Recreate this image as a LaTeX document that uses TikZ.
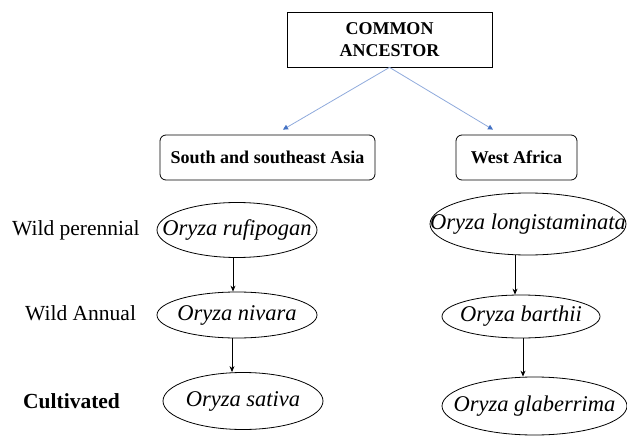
\documentclass[tikz,border=0pt]{standalone}
\usepackage{fontspec}
\setmainfont{Liberation Serif}
\usetikzlibrary{arrows.meta, positioning, shapes.geometric}
\definecolor{LinkBlue}{HTML}{8FAADC}
\definecolor{TipBlue}{HTML}{4472C4}

\begin{document}
\begin{tikzpicture}[
    x=1pt, y=-1pt,
    topbox/.style={rectangle, draw=black, line width=0.8pt, inner sep=0pt,
                  minimum height=55pt, minimum width=205pt, align=center,
                  font=\fontsize{18}{22}\selectfont\bfseries},
    regbox/.style={rectangle, rounded corners=6pt, draw=black, line width=0.8pt,
                  inner sep=0pt, minimum height=45pt,
                  font=\fontsize{18}{22}\selectfont\bfseries},
    sp/.style={ellipse, draw=black, line width=0.8pt, inner sep=0pt},
    spname/.style={inner sep=0pt, font=\fontsize{22.5}{26}\selectfont\itshape},
    stage/.style={anchor=west, inner sep=0pt, font=\fontsize{21.5}{25}\selectfont},
    arr/.style={-{Stealth[length=6pt, width=5pt]}, line width=0.8pt, color=black},
    blarr/.style={-{Triangle[length=5pt, width=5pt, color=TipBlue]}, line width=0.8pt, color=LinkBlue}
  ]
    \useasboundingbox (0,0) rectangle (627,436);

    \node[topbox] (anc) at (389.5,39.5) {COMMON\\ANCESTOR};
    \node[regbox, minimum width=215pt] (sas) at (267.5,157.5) {South and southeast Asia};
    \node[regbox, minimum width=121pt] (waf) at (516.5,157.5) {West Africa};

    \node[sp, minimum width=160pt, minimum height=55pt,
          label={[spname]center:Oryza rufipogan}] (ruf) at (237,230) {};
    \node[sp, minimum width=160pt, minimum height=46pt,
          label={[spname]center:Oryza nivara}] (niv) at (237,315) {};
    \node[sp, minimum width=160pt, minimum height=57pt,
          label={[spname]center:Oryza sativa}] (sat) at (243,401) {};

    \node[sp, minimum width=196pt, minimum height=62pt,
          label={[spname]center:Oryza longistaminata}] (lon) at (528,224) {};
    \node[sp, minimum width=158pt, minimum height=43pt,
          label={[spname]center:Oryza barthii}] (bar) at (521,316.5) {};
    \node[sp, minimum width=185pt, minimum height=58pt,
          label={[spname]center:Oryza glaberrima}] (gla) at (534.5,406) {};

    \node[stage] (wper) at (12,230) {Wild perennial};
    \node[stage] (wann) at (25,313) {Wild Annual};
    \node[stage, font=\fontsize{21.5}{25}\selectfont\bfseries] (cult) at (23,401) {Cultivated};

    \draw[blarr] (anc.south) -- ([xshift=15.5pt, yshift=5pt]sas.north);
    \draw[blarr] (anc.south) -- ([xshift=-23.5pt, yshift=5pt]waf.north);

    \draw[arr] ([xshift=-4pt]ruf.south) -- ([xshift=-4pt]niv.north);
    \draw[arr] ([xshift=-5pt]niv.south) -- ([xshift=-11pt]sat.north);
    \draw[arr] ([xshift=-13pt]lon.south) -- ([xshift=-6pt]bar.north);
    \draw[arr] ([xshift=2pt]bar.south) -- ([xshift=-11.5pt]gla.north);
  \end{tikzpicture}
\end{document}
